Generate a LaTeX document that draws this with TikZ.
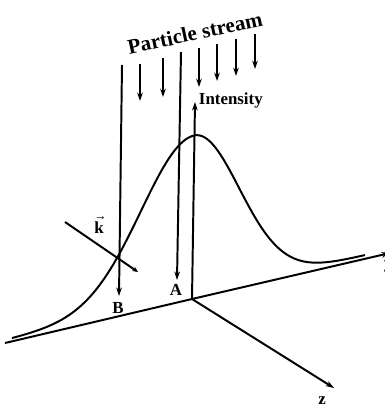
\documentclass[tikz,border=0pt]{standalone}
\usepackage{fontspec}
\setmainfont{Liberation Serif}
\usetikzlibrary{arrows.meta}

\begin{document}
\begin{tikzpicture}[
  x=0.025cm, y=-0.025cm,
  line width=1.4pt,
  stream/.style={-{Stealth[length=6pt,width=4pt]}},
  axis/.style={-{Stealth[length=6pt,width=4pt]}},
  lab/.style={font=\fontsize{12}{14}\selectfont\bfseries, inner sep=0pt}
]
\useasboundingbox (0,0) rectangle (384,408);
% axes
\coordinate (O) at (192,299);
\coordinate (left) at (5,343);
\coordinate (right) at (390,253);
\coordinate (itop) at (195,102);
\coordinate (ztip) at (334,388);
\draw (left)--(O);
\draw[axis] (O)--(right);
\draw[axis] (O)--(itop);
\draw[axis] (O)--(ztip);
\node[lab, anchor=west] (intensity) at (198,100) {Intensity};
\node[lab] (zlab) at (322,401) {z};
\node[lab] (ylab) at (388,266) {y};
% intensity profile
\draw plot[domain=12:365, samples=150, smooth]
  (\x, {299-0.236*(\x-192)-3-160*exp(-(((\x-194)/10)^2)/(2*(\x<194 ? 28.1 : 20.25)))});
% particle stream
\node[rotate=12, inner sep=0pt] (title) at (195,33) {\fontsize{15}{18}\selectfont\bfseries Particle stream};
\coordinate (btop) at (122,65);
\coordinate (bend) at (119,296);
\coordinate (atop) at (181,52);
\coordinate (aend) at (177,280);
\draw[stream] (btop)--(bend);
\draw[stream] (atop)--(aend);
\node[lab] (blab) at (118,308) {B};
\node[lab] (alab) at (176,290) {A};
\coordinate (s1) at (140,64);  \coordinate (e1) at (140,101);
\coordinate (s2) at (163,58);  \coordinate (e2) at (163,97);
\coordinate (s3) at (199,48);  \coordinate (e3) at (199,87);
\coordinate (s4) at (217,44);  \coordinate (e4) at (217,81);
\coordinate (s5) at (236,39);  \coordinate (e5) at (236,76);
\coordinate (s6) at (255,34);  \coordinate (e6) at (255,69);
\draw[stream] (s1)--(e1);
\draw[stream] (s2)--(e2);
\draw[stream] (s3)--(e3);
\draw[stream] (s4)--(e4);
\draw[stream] (s5)--(e5);
\draw[stream] (s6)--(e6);
% wave vector
\coordinate (kstart) at (65,222);
\coordinate (kend) at (138,272);
\draw[-{Stealth[length=4pt,width=3.5pt]}] (kstart)--(kend);
\node[lab] (klab) at (99,225) {$\vec{\mathbf{k}}$};
\end{tikzpicture}
\end{document}
